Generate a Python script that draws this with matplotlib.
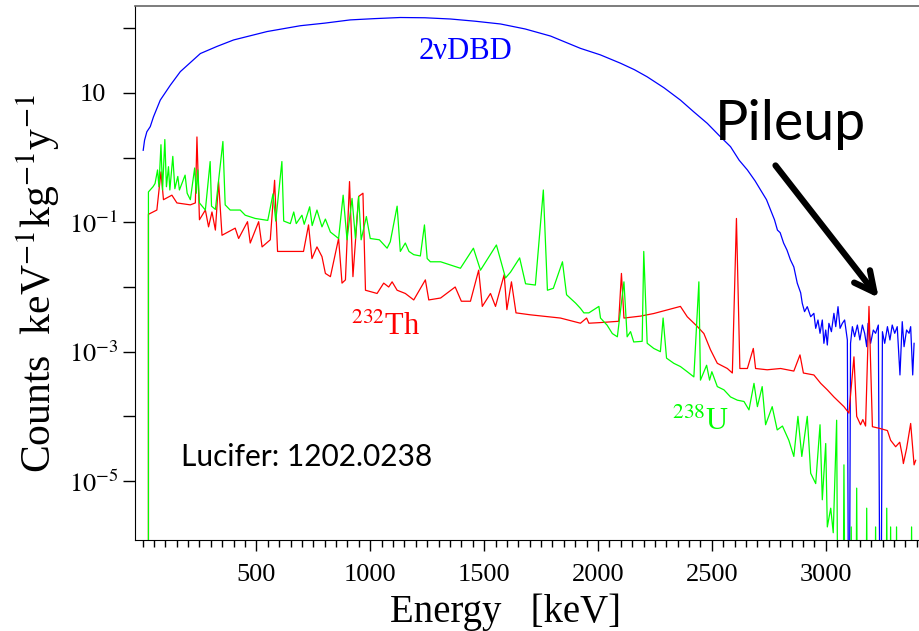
import numpy as np
import matplotlib.pyplot as plt
from matplotlib.ticker import FixedLocator, FixedFormatter, MultipleLocator

plt.rcParams['font.family'] = ['Liberation Serif', 'DejaVu Serif']
plt.rcParams['mathtext.fontset'] = 'stix'

# energies in keV, counts given as log10(counts/keV/kg/y); -9 = empty bin (below the axis)
e_2nu = np.array([3, 9, 19, 34, 48, 78, 122, 166, 254, 327, 400, 547, 693, 800, 912, 1020,
                  1132, 1240, 1352, 1460, 1572, 1680, 1792, 1923, 2010, 2099, 2160, 2216,
                  2290, 2362, 2420, 2480, 2530, 2582, 2620, 2656, 2690, 2714, 2740, 2758,
                  2775, 2788, 2800, 2815, 2830, 2845, 2860, 2875, 2890,
                  2897, 2907, 2919, 2934, 2948, 2956, 2966, 2975, 2985, 2992, 3000, 3007,
                  3014, 3025, 3036, 3044, 3054, 3063, 3073, 3083, 3095, 3102, 3109, 3117,
                  3127, 3139, 3150, 3161, 3171, 3180, 3186, 3197, 3209, 3219, 3231, 3241,
                  3249, 3259, 3271, 3282, 3292, 3303, 3314, 3326, 3336, 3344, 3355, 3366,
                  3373, 3382, 3388])
log_2nu = np.array([0.114, 0.27, 0.40, 0.48, 0.63, 0.89, 1.12, 1.33, 1.61, 1.72, 1.82, 1.95,
                    2.04, 2.08, 2.13, 2.15, 2.167, 2.163, 2.144, 2.11, 2.067, 1.99, 1.88, 1.69,
                    1.59, 1.46, 1.36, 1.25, 1.08, 0.89, 0.71, 0.53, 0.35, 0.17, -0.04, -0.19,
                    -0.36, -0.50, -0.65, -0.81, -0.96, -1.12, -1.16, -1.32, -1.43, -1.58,
                    -1.69, -1.94, -2.09,
                    -2.252, -2.381, -2.304, -2.459, -2.407, -2.639, -2.510, -2.716, -2.510,
                    -2.871, -2.665, -2.897, -2.562, -2.691, -2.407, -2.613, -2.304, -2.639,
                    -2.562, -2.510, -2.819, -9, -2.871, -2.613, -2.768, -2.588, -2.819, -2.588,
                    -2.716, -2.923, -2.562, -2.871, -2.665, -2.716, -2.588, -9, -2.691, -2.871,
                    -2.613, -2.819, -2.588, -2.716, -2.613, -3.36, -2.536, -2.923, -2.665,
                    -2.716, -2.613, -3.36, -2.871])

e_th = np.array([26, 26, 63, 81, 92, 129, 151, 210, 232, 239, 250, 276, 290, 305, 320, 334,
                 349, 407, 422, 461, 473, 510, 525, 561, 580, 593, 707, 729, 744, 766, 788,
                 803, 825, 861, 876, 891, 909, 924, 949, 968, 979, 1030, 1059, 1081, 1096,
                 1118, 1154, 1191, 1242, 1257, 1309, 1373, 1400, 1440, 1476, 1492, 1528, 1550,
                 1588, 1600, 1620, 1640, 1703, 1835, 1923, 1950, 1960, 2011, 2091, 2103, 2114,
                 2187, 2245, 2362, 2392, 2436, 2465, 2494, 2524, 2568, 2590, 2608, 2623, 2656,
                 2682, 2692, 2743, 2802, 2860, 2887, 2902, 2948, 2978, 3007, 3036, 3080, 3102,
                 3124, 3136, 3153, 3163, 3175, 3190, 3205, 3241, 3271, 3285, 3307, 3325, 3337,
                 3341, 3355, 3373, 3388, 3395])
log_th = np.array([-9, -0.876, -0.81, -0.22, -0.65, -0.58, -0.70, -0.73, -0.70, 0.32, -0.96,
                   -0.81, -1.07, -0.84, -1.12, -0.37, -1.20, -1.09, -1.25, -0.99, -1.32, -0.99,
                   -1.38, -1.27, -0.35, -1.45, -1.45, -1.04, -1.56, -1.38, -1.53, -1.79, -1.84,
                   -1.25, -1.94, -1.89, -0.37, -1.84, -0.60, -0.55, -2.05, -2.10, -1.94, -2.00,
                   -1.92, -2.05, -2.10, -2.20, -1.89, -2.20, -2.17, -2.00, -2.22, -2.22, -1.74,
                   -2.30, -2.10, -2.30, -1.81, -2.35, -1.92, -2.40, -2.43, -2.48, -2.56, -2.48,
                   -2.56, -2.55, -2.53, -1.79, -2.48, -2.45, -2.41, -2.30, -2.46, -2.61, -2.72,
                   -2.97, -3.18, -3.26, -3.33, -0.94, -3.26, -3.26, -2.95, -3.26, -3.28, -3.26,
                   -3.30, -3.05, -3.33, -3.36, -3.49, -3.59, -3.70, -3.85, -3.95, -3.08, -4.00,
                   -4.13, -4.05, -4.15, -2.30, -4.16, -4.19, -4.22, -4.37, -4.47, -4.40, -4.62,
                   -4.73, -4.50, -4.11, -4.75, -4.68])

e_u = np.array([26, 26, 46, 55, 66, 72, 81, 88, 98, 105, 114, 120, 133, 142, 155, 162, 187,
                196, 210, 229, 236, 243, 250, 276, 297, 303, 320, 353, 363, 385, 429, 451, 495,
                532, 550, 573, 585, 612, 620, 649, 664, 675, 700, 710, 734, 745, 766, 788, 803,
                825, 861, 881, 898, 920, 935, 949, 960, 983, 1000, 1040, 1074, 1088, 1118, 1132,
                1154, 1170, 1191, 1220, 1238, 1250, 1264, 1309, 1396, 1453, 1484, 1554, 1594,
                1616, 1656, 1682, 1725, 1760, 1778, 1804, 1844, 1862, 1902, 1923, 1938, 1960,
                2004, 2011, 2040, 2063, 2085, 2114, 2128, 2143, 2157, 2194, 2201, 2216, 2245,
                2274, 2286, 2301, 2333, 2362, 2392, 2421, 2443, 2450, 2477, 2490, 2500, 2524,
                2553, 2582, 2612, 2641, 2663, 2685, 2700, 2721, 2736, 2765, 2787, 2810, 2838,
                2860, 2878, 2895, 2919, 2934, 2956, 2975, 2985, 3000, 3007, 3022, 3033, 3048,
                3056, 3074, 3080, 3088, 3106, 3112, 3118, 3130, 3136, 3142, 3174, 3180, 3186,
                3213, 3219, 3225, 3262, 3268, 3274, 3279, 3285, 3291, 3305, 3311, 3317, 3371,
                3377, 3383])
log_u = np.array([-9, -0.53, -0.45, -0.40, -0.19, -0.45, 0.20, -0.50, 0.28, -0.45, -0.14, -0.50,
                  0.02, -0.48, -0.29, -0.50, -0.27, -0.55, -0.65, -0.16, -0.55, -0.19, -0.70,
                  -0.81, -0.06, -0.75, -0.80, 0.25, -0.73, -0.81, -0.81, -0.89, -0.94, -0.96,
                  -0.97, -0.56, -0.98, -0.06, -0.98, -1.02, -0.84, -1.02, -0.89, -1.03, -0.76,
                  -1.05, -0.81, -1.07, -0.95, -1.15, -1.25, -0.58, -1.27, -0.63, -1.25, -0.60,
                  -1.27, -0.91, -1.25, -1.27, -1.40, -1.30, -0.75, -1.45, -1.32, -1.45, -1.50,
                  -1.52, -1.04, -1.56, -1.61, -1.61, -1.71, -1.40, -1.74, -1.35, -1.86, -1.77,
                  -1.55, -1.95, -1.97, -0.50, -2.05, -2.02, -1.61, -2.12, -2.25, -2.33, -2.40,
                  -2.40, -2.30, -2.48, -2.59, -2.72, -2.77, -1.92, -2.77, -2.69, -2.85, -2.84,
                  -1.45, -2.87, -2.95, -3.00, -2.48, -3.10, -3.18, -3.23, -3.31, -3.39, -1.92,
                  -3.44, -3.21, -3.44, -3.31, -3.54, -3.59, -3.70, -3.75, -3.77, -3.90, -3.49,
                  -3.85, -3.54, -4.13, -3.85, -4.21, -4.15, -4.37, -4.62, -4.00, -4.62, -4.00,
                  -4.88, -5.04, -4.13, -5.29, -4.42, -5.71, -5.42, -5.80, -4.06,
                  -9, -9, -4.75, -9, -9, -5.71, -9, -9, -5.11, -9, -9, -5.42, -9,
                  -9, -5.71, -9, -9, -5.42, -9, -9, -5.71, -9, -9, -5.71, -9, -9,
                  -5.71, -9])

y_ticks = [1e-6, 1e-5, 1e-4, 1e-3, 1e-2, 1e-1, 1, 10, 100]
y_labels = ['', r'$10^{-5}$', '', r'$10^{-3}$', '', r'$10^{-1}$', '', '10', '']
x_ticks = [500, 1000, 1500, 2000, 2500, 3000]

fig = plt.figure(figsize=(9.2, 6.31), dpi=100)
ax = fig.add_axes([135 / 920, 91 / 631, 785 / 920, 534 / 631])

ax.plot(e_2nu, 10.0 ** log_2nu, color='#0000ff', lw=0.9)
ax.plot(e_th, 10.0 ** log_th, color='#ff0000', lw=0.9)
ax.plot(e_u, 10.0 ** log_u, color='#00ff00', lw=0.9)

ax.set_yscale('log')
ax.set_xlim(-33, 3414)
ax.set_ylim(10 ** -5.912, 10 ** 2.345)

ax.yaxis.set_major_locator(FixedLocator(y_ticks))
ax.yaxis.set_major_formatter(FixedFormatter(y_labels))
ax.yaxis.set_minor_locator(FixedLocator([]))
ax.xaxis.set_minor_locator(MultipleLocator(50))
ax.set_xticks(x_ticks)
ax.set_xticklabels([str(v) for v in x_ticks])

ax.tick_params(axis='y', which='major', direction='out', length=9, width=1, labelsize=19, pad=21)
for lab in ax.get_yticklabels():
    lab.set_horizontalalignment('center')
ax.tick_params(axis='x', which='major', direction='out', length=8, width=1, labelsize=19, pad=9)
ax.tick_params(axis='x', which='minor', direction='out', length=5, width=1)

ax.spines['right'].set_visible(False)
ax.spines['top'].set_color('#666666')
ax.spines['top'].set_linewidth(1.2)

ax.set_xlabel('Energy   [keV]', fontsize=28)
ax.xaxis.set_label_coords(0.4726, -0.10)
ax.set_ylabel(r'Counts  keV$^{-1}$kg$^{-1}$y$^{-1}$', fontsize=30)
ax.yaxis.set_label_coords(-0.093, 0.48)

ax.text(1418, 10 ** 1.634, '2νDBD', color='#0000ff', fontsize=22, ha='center', va='center')
ax.text(1066, 10 ** -2.62, r'$^{232}$Th', color='#ff0000', fontsize=22, ha='center', va='center')
ax.text(2450, 10 ** -4.09, r'$^{238}$U', color='#00ff00', fontsize=22, ha='center', va='center')
ax.text(719, 10 ** -4.63, 'Lucifer: 1202.0238', family='Lato', fontsize=21.5,
        ha='center', va='center')
ax.text(2845, 10 ** 0.52, 'Pileup', family='Lato', fontsize=40, ha='center', va='center')

ax.annotate('', xy=(3240, 10 ** -2.2), xytext=(2772, 10 ** -0.087),
            arrowprops=dict(arrowstyle='->', lw=4.5, color='black', mutation_scale=36))

fig.savefig('out.png', dpi=100)
